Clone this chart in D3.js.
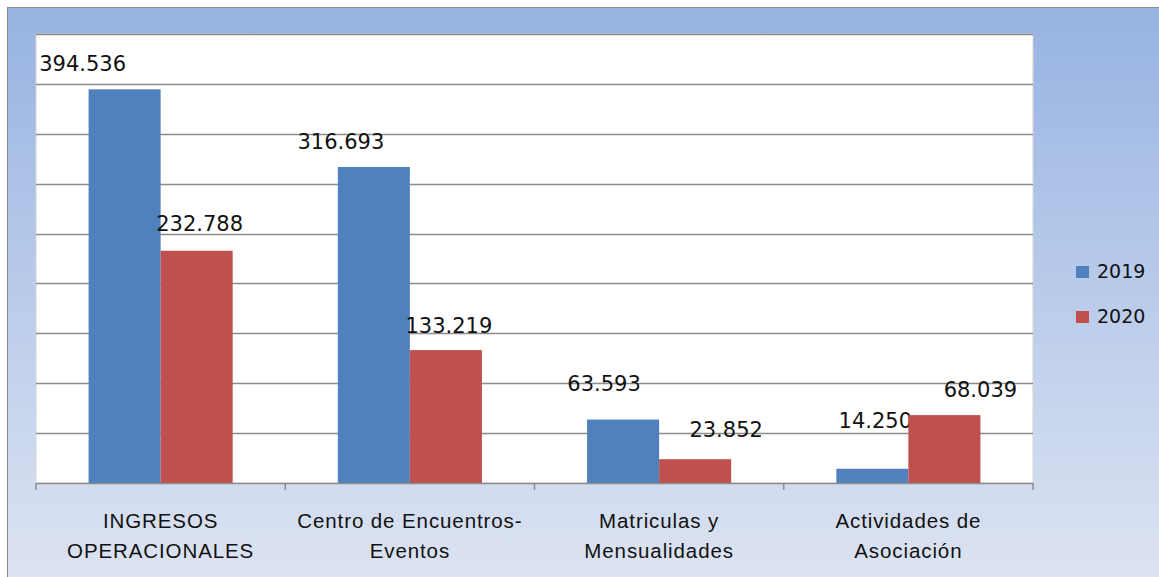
<!DOCTYPE html>
<html>
<head>
<meta charset="utf-8">
<script src="https://cdn.jsdelivr.net/npm/d3@7"></script>
<style>
  body { margin: 0; background: #fff; }
  svg text { font-family: "DejaVu Sans", Verdana, sans-serif; fill: #111; }
</style>
</head>
<body>
<div id="chart"></div>
<script>
// data (values in pesos, shown with "." as thousands separator)
const categories = ["INGRESOS\nOPERACIONALES", "Centro de Encuentros-\nEventos", "Matriculas y\nMensualidades", "Actividades de\nAsociación"];
const seriesNames = ["2019", "2020"];
const values2019 = [394536, 316693, 63593, 14250];
const values2020 = [232788, 133219, 23852, 68039];
const yTicks = [0, 50000, 100000, 150000, 200000, 250000, 300000, 350000, 400000, 450000];

// layout tweaks for the data labels (Excel placed them a bit off-centre)
const labelDx = [[-42, -33, -19, 3], [3, 3, 31, 36]];
const labelDy = [[18, 18, 29, 41], [20, 17, 22, 18]];

const colors = ["#4F81BD", "#C0504D"];
const W = 1159, H = 577;
const plot = { left: 36, right: 1033, top: 34, bottom: 483 };

const svg = d3.select("#chart").append("svg")
    .attr("width", W)
    .attr("height", H);

// background gradient
const grad = svg.append("defs").append("linearGradient")
    .attr("id", "bg").attr("x1", 0).attr("y1", 0).attr("x2", 0).attr("y2", 1);
grad.append("stop").attr("offset", "0%").attr("stop-color", "#97B3E2");
grad.append("stop").attr("offset", "100%").attr("stop-color", "#DDE4F2");

svg.append("rect")
    .attr("x", 7.5).attr("y", 7.5)
    .attr("width", W).attr("height", H)
    .attr("fill", "url(#bg)")
    .attr("stroke", "#8a8a8a");

svg.append("rect")
    .attr("x", plot.left).attr("y", plot.top)
    .attr("width", plot.right - plot.left).attr("height", plot.bottom - plot.top)
    .attr("fill", "#fff")
    .attr("stroke", "#d4d4d4");

const x0 = d3.scaleBand()
    .domain(categories)
    .range([plot.left, plot.right])
    .paddingInner(0)
    .paddingOuter(0);

const x1 = d3.scaleBand()
    .domain(seriesNames)
    .range([0, x0.bandwidth()])
    .paddingInner(0)
    .paddingOuter(0.73);

const y = d3.scaleLinear()
    .domain([0, 450000])
    .range([plot.bottom, plot.top]);

// gridlines
svg.append("g")
    .selectAll("line")
    .data(yTicks.slice(1))
    .join("line")
    .attr("x1", plot.left).attr("x2", plot.right)
    .attr("y1", d => Math.round(y(d)) + 0.5)
    .attr("y2", d => Math.round(y(d)) + 0.5)
    .attr("stroke", "#8c8c8c")
    .attr("stroke-width", 1.5);

// bars
const series = [values2019, values2020];
const groups = svg.append("g")
    .selectAll("g")
    .data(seriesNames)
    .join("g")
    .attr("fill", (d, i) => colors[i]);

groups.selectAll("rect")
    .data((s, si) => categories.map((c, ci) => ({ c: c, s: s, si: si, ci: ci, v: series[si][ci] })))
    .join("rect")
    .attr("x", d => x0(d.c) + x1(d.s))
    .attr("y", d => y(d.v))
    .attr("width", x1.bandwidth())
    .attr("height", d => plot.bottom - y(d.v));

// x axis
const xAxis = d3.axisBottom(x0).tickSize(0).tickFormat("");
const gx = svg.append("g")
    .attr("transform", `translate(0,${plot.bottom})`)
    .call(xAxis);
gx.select(".domain").attr("stroke", "#8c8c8c").attr("stroke-width", 1.5);
gx.selectAll(".boundary")
    .data(d3.range(categories.length + 1))
    .join("line")
    .attr("x1", i => plot.left + i * x0.step())
    .attr("x2", i => plot.left + i * x0.step())
    .attr("y1", 0).attr("y2", 7)
    .attr("stroke", "#8c8c8c")
    .attr("stroke-width", 1.5);

// category labels
svg.append("g")
    .selectAll("text")
    .data(categories)
    .join("text")
    .attr("x", d => x0(d) + x0.bandwidth() / 2)
    .attr("y", 528)
    .attr("text-anchor", "middle")
    .style("font-family", "'Liberation Sans', Arial, sans-serif")
    .style("font-size", "20.5px")
    .style("letter-spacing", "0.9px")
    .selectAll("tspan")
    .data(d => d.split("\n"))
    .join("tspan")
    .attr("x", function () { return d3.select(this.parentNode).attr("x"); })
    .attr("dy", (d, i) => i === 0 ? 0 : 30)
    .text(d => d);

// data labels
const esLocale = d3.formatLocale({ decimal: ",", thousands: ".", grouping: [3], currency: ["$", ""] });
const fmt = esLocale.format(",d");
groups.selectAll("text")
    .data((s, si) => categories.map((c, ci) => ({ c: c, s: s, si: si, ci: ci, v: series[si][ci] })))
    .join("text")
    .attr("x", d => x0(d.c) + x1(d.s) + x1.bandwidth() / 2 + labelDx[d.si][d.ci])
    .attr("y", d => y(d.v) - labelDy[d.si][d.ci])
    .attr("text-anchor", "middle")
    .style("font-size", "21px")
    .style("fill", "#111")
    .text(d => fmt(d.v));

// legend
const legend = svg.append("g")
    .selectAll("g")
    .data(seriesNames)
    .join("g")
    .attr("transform", (d, i) => `translate(1076,${266 + i * 45})`);
legend.append("rect")
    .attr("width", 13).attr("height", 12)
    .attr("fill", (d, i) => colors[i]);
legend.append("text")
    .attr("x", 21).attr("y", 12)
    .style("font-size", "19px")
    .text(d => d);
</script>
</body>
</html>
